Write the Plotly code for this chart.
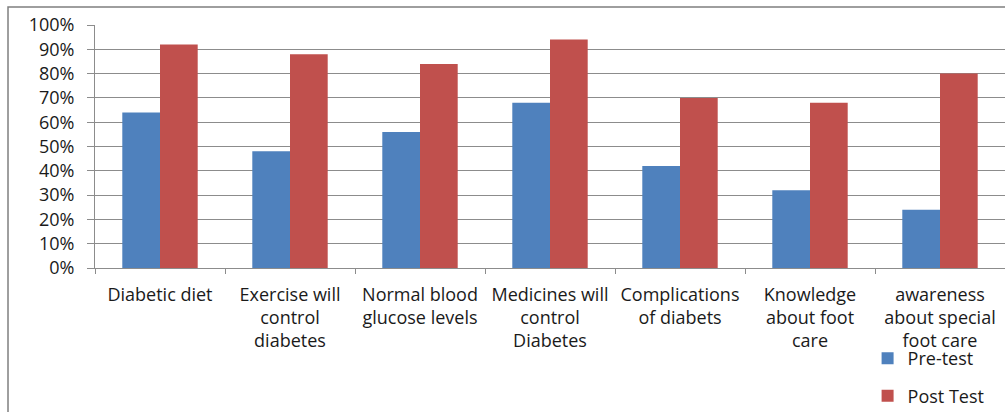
import plotly.graph_objects as go

categories = [
    "Diabetic diet",
    "Exercise will<br>control<br>diabetes",
    "Normal blood<br>glucose levels",
    "Medicines will<br>control<br>Diabetes",
    "Complications<br>of diabets",
    "Knowledge<br>about foot<br>care",
    "awareness<br>about special<br>foot care",
]
pre_test = [0.64, 0.48, 0.56, 0.68, 0.42, 0.32, 0.24]
post_test = [0.92, 0.88, 0.84, 0.94, 0.70, 0.68, 0.80]
y_ticks = [i / 10 for i in range(11)]
y_tick_labels = [f"{i * 10}%" for i in range(11)]

FONT = "Open Sans"
TEXT = "#1a1a1a"

fig = go.Figure()
fig.add_trace(go.Bar(
    x=categories, y=pre_test, name="Pre-test", legendgroup="pre",
    marker=dict(color="#4F81BD", line=dict(width=0)),
))
fig.add_trace(go.Bar(
    x=categories, y=post_test, name="Post Test", legendgroup="post",
    marker=dict(color="#C0504D", line=dict(width=0)),
))

fig.update_layout(
    width=1005, height=412,
    margin=dict(l=95, r=0, t=25, b=144, autoexpand=False),
    paper_bgcolor="white", plot_bgcolor="white",
    barmode="group", bargap=0.42, bargroupgap=0,
    font=dict(family=FONT, size=18, color=TEXT),
    showlegend=True,
    legend=dict(
        x=0.849, y=-0.297, xanchor="left", yanchor="top",
        traceorder="grouped", tracegroupgap=11,
        font=dict(family=FONT, size=18, color=TEXT),
        itemwidth=30, bgcolor="rgba(0,0,0,0)",
    ),
)
fig.update_xaxes(
    type="category", showgrid=False, showline=True, linecolor="#8c8c8c", linewidth=1,
    ticks="outside", tickson="boundaries", ticklen=5, tickcolor="#8c8c8c",
    tickfont=dict(family=FONT, size=18, color=TEXT), tickangle=0,
    ticklabelstandoff=10, automargin=False,
)
fig.update_yaxes(
    range=[0, 1.0], tickvals=y_ticks, ticktext=y_tick_labels,
    showgrid=True, gridcolor="#8c8c8c", gridwidth=1,
    showline=True, linecolor="#8c8c8c", linewidth=1,
    ticks="outside", ticklen=7, tickcolor="#8c8c8c",
    tickfont=dict(family=FONT, size=18, color=TEXT),
    ticklabelstandoff=9, automargin=False,
    zeroline=False,
)

# Chart frame (left and top edges visible)
fig.add_shape(type="rect", xref="paper", yref="paper",
              x0=-0.0956, x1=1.2, y0=-1.0, y1=1.074,
              line=dict(color="#7f7f7f", width=1.5), layer="below")

fig.write_html("out.html")
